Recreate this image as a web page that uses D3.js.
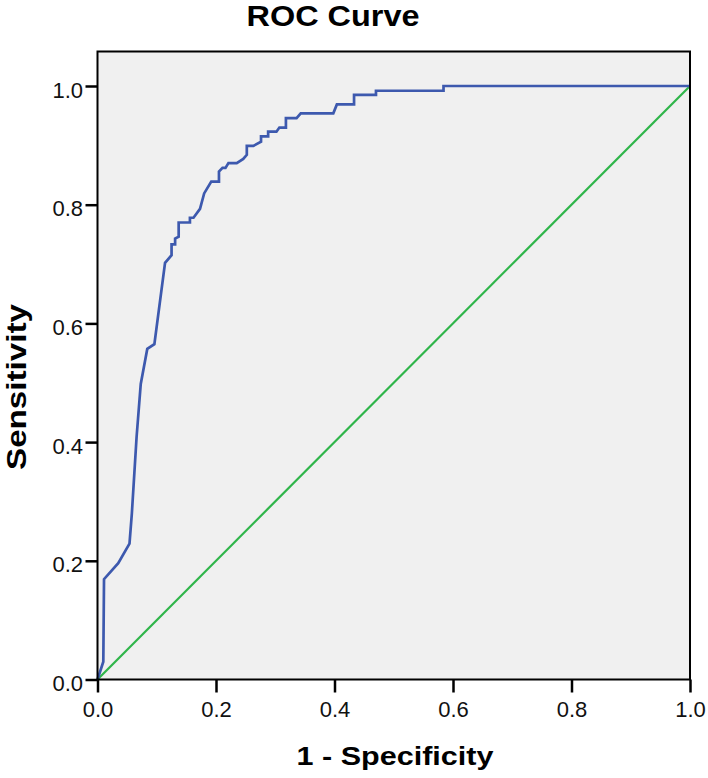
<!DOCTYPE html>
<html>
<head>
<meta charset="utf-8">
<script src="https://cdn.jsdelivr.net/npm/d3@7"></script>
<style>
  html, body { margin: 0; padding: 0; background: #fff; }
  svg { display: block; font-family: "Liberation Sans", Arial, Helvetica, sans-serif; }
</style>
</head>
<body>
<svg id="chart" width="708" height="778"></svg>
<script>
// ROC curve data (1 - Specificity, Sensitivity)
const fpr = [0, 0.0098, 0.011, 0.035, 0.054, 0.058, 0.066, 0.073, 0.084, 0.096,
  0.114, 0.125, 0.125, 0.131, 0.131, 0.137, 0.137, 0.156, 0.156, 0.162,
  0.173, 0.180, 0.192, 0.205, 0.205, 0.211, 0.216, 0.221, 0.235, 0.246,
  0.252, 0.252, 0.263, 0.276, 0.276, 0.288, 0.288, 0.302, 0.307, 0.318,
  0.318, 0.336, 0.343, 0.398, 0.404, 0.433, 0.433, 0.470, 0.470, 0.584,
  0.584, 1.0];
const tpr = [0, 0.030, 0.169, 0.196, 0.229, 0.280, 0.409, 0.498, 0.557, 0.565,
  0.702, 0.715, 0.733, 0.733, 0.743, 0.746, 0.770, 0.770, 0.778, 0.778,
  0.793, 0.819, 0.839, 0.839, 0.856, 0.862, 0.862, 0.870, 0.870, 0.877,
  0.884, 0.899, 0.899, 0.906, 0.915, 0.915, 0.923, 0.923, 0.930, 0.930,
  0.946, 0.946, 0.954, 0.954, 0.969, 0.969, 0.985, 0.985, 0.992, 0.992,
  1.0, 1.0];
const refX = [0, 1];
const refY = [0, 1];
const tickValues = [0, 0.2, 0.4, 0.6, 0.8, 1.0];
const tickLabels = ["0.0", "0.2", "0.4", "0.6", "0.8", "1.0"];
const titleText = "ROC Curve";
const xTitle = "1 - Specificity";
const yTitle = "Sensitivity";

const svg = d3.select("#chart");
const plotLeft = 97.5, plotRight = 690, plotBottom = 679.5, y1px = 86;
const x = d3.scaleLinear().domain([0, 1]).range([plotLeft, plotRight]);
const y = d3.scaleLinear().domain([0, 1]).range([plotBottom, y1px]);
const yTop = y.invert(51.5);

// plot background
svg.append("rect")
  .attr("x", x(0)).attr("y", y(yTop))
  .attr("width", x(1) - x(0)).attr("height", y(0) - y(yTop))
  .attr("fill", "#f0f0f0");

// lines
const line = d3.line().x(d => x(d[0])).y(d => y(d[1]));
svg.append("path")
  .attr("d", line(refX.map((v, i) => [v, refY[i]])))
  .attr("fill", "none").attr("stroke", "#2fb54a").attr("stroke-width", 2.2);
svg.append("path")
  .attr("d", line(fpr.map((v, i) => [v, tpr[i]])))
  .attr("fill", "none").attr("stroke", "#3d59ae").attr("stroke-width", 2.7)
  .attr("stroke-linejoin", "miter");

// frame
svg.append("rect")
  .attr("x", x(0)).attr("y", y(yTop))
  .attr("width", x(1) - x(0)).attr("height", y(0) - y(yTop))
  .attr("fill", "none").attr("stroke", "#000").attr("stroke-width", 2);

// axes
const xAxis = d3.axisBottom(x).tickValues(tickValues)
  .tickFormat((d, i) => tickLabels[i]).tickSize(13).tickSizeOuter(0).tickPadding(5);
const gx = svg.append("g").attr("transform", `translate(0,${y(0)})`).call(xAxis);
gx.select(".domain").remove();
gx.selectAll(".tick line").attr("stroke", "#000").attr("stroke-width", 2.5);
gx.selectAll(".tick text").attr("font-size", 22).attr("fill", "#111")
  .attr("dy", null).attr("y", 37.5).attr("font-family", "Liberation Sans, Arial, sans-serif");

const yAxis = d3.axisLeft(y).tickValues(tickValues)
  .tickFormat((d, i) => tickLabels[i]).tickSize(12).tickSizeOuter(0).tickPadding(2);
const gy = svg.append("g").attr("transform", `translate(${x(0)},0)`).call(yAxis);
gy.select(".domain").remove();
gy.selectAll(".tick line").attr("stroke", "#000").attr("stroke-width", 2.5);
gy.selectAll(".tick text").attr("font-size", 22).attr("fill", "#111")
  .attr("dy", null).attr("y", 11).attr("x", -14.5).attr("font-family", "Liberation Sans, Arial, sans-serif");

// titles
svg.append("text").text(titleText)
  .attr("x", 333).attr("y", 26).attr("text-anchor", "middle")
  .attr("font-weight", "bold").attr("font-size", 29)
  .attr("textLength", 173).attr("lengthAdjust", "spacingAndGlyphs").attr("fill", "#000");
svg.append("text").text(xTitle)
  .attr("x", 395).attr("y", 765).attr("text-anchor", "middle")
  .attr("font-weight", "bold").attr("font-size", 26)
  .attr("textLength", 197).attr("lengthAdjust", "spacingAndGlyphs").attr("fill", "#000");
svg.append("text").text(yTitle)
  .attr("transform", "translate(26,387) rotate(-90)").attr("text-anchor", "middle")
  .attr("font-weight", "bold").attr("font-size", 27)
  .attr("textLength", 166).attr("lengthAdjust", "spacingAndGlyphs").attr("fill", "#000");
</script>
</body>
</html>
